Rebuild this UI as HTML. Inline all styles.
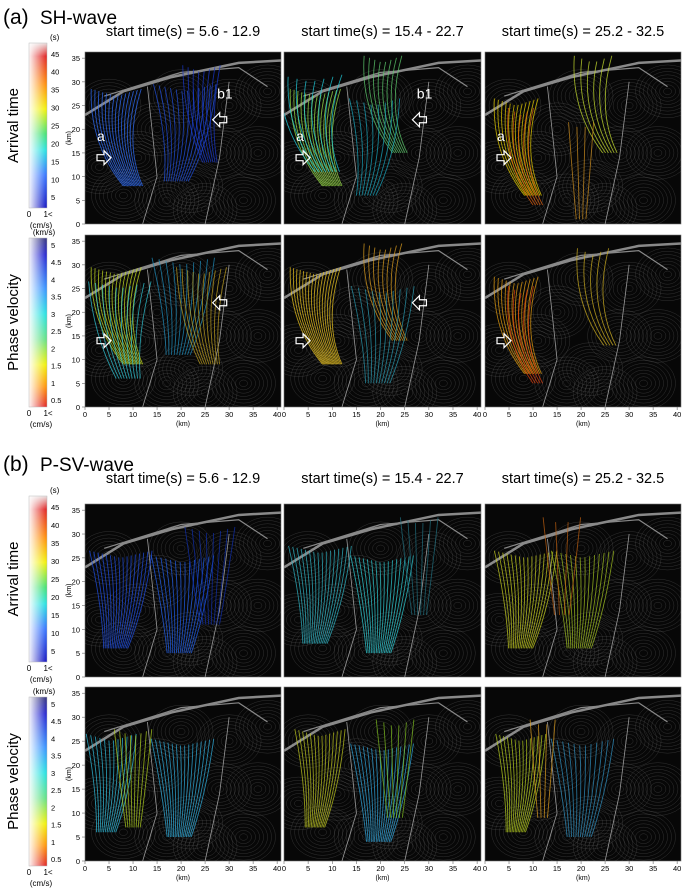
<!DOCTYPE html>
<html><head><meta charset="utf-8"><style>
html,body{margin:0;padding:0;background:#fff;}
svg{display:block;font-family:"Liberation Sans",sans-serif;}
</style></head><body>
<svg id="fig" width="685" height="891" viewBox="0 0 685 891" xmlns="http://www.w3.org/2000/svg">
<defs>
<linearGradient id="gArr" x1="0" y1="0" x2="0" y2="1">
<stop offset="0" stop-color="#e8e0e0"/><stop offset="0.08" stop-color="#e02020"/><stop offset="0.25" stop-color="#ff8a00"/><stop offset="0.4" stop-color="#f2f000"/><stop offset="0.55" stop-color="#40e070"/><stop offset="0.65" stop-color="#20e0e0"/><stop offset="0.8" stop-color="#3070ff"/><stop offset="1" stop-color="#1010c0"/></linearGradient>
<linearGradient id="gVel" x1="0" y1="0" x2="0" y2="1">
<stop offset="0" stop-color="#30307a"/><stop offset="0.1" stop-color="#2020d0"/><stop offset="0.3" stop-color="#3090ff"/><stop offset="0.45" stop-color="#20e0e0"/><stop offset="0.6" stop-color="#60e080"/><stop offset="0.75" stop-color="#f0f000"/><stop offset="0.88" stop-color="#ff9000"/><stop offset="1" stop-color="#e02020"/></linearGradient>
<linearGradient id="gWhite" x1="0" y1="0" x2="1" y2="0">
<stop offset="0" stop-color="#fff" stop-opacity="0.95"/><stop offset="1" stop-color="#fff" stop-opacity="0"/></linearGradient>
</defs>
<text x="3" y="24" font-size="21">(a)</text>
<text x="40" y="24" font-size="19">SH-wave</text>
<text x="3" y="471" font-size="21">(b)</text>
<text x="40" y="471" font-size="19">P-SV-wave</text>
<g id="content"></g>
</svg>
<script>
const colLabels = ["start time(s) = 5.6 - 12.9","start time(s) = 15.4 - 22.7","start time(s) = 25.2 - 32.5"];
const xTicks = [0,5,10,15,20,25,30,35,40];
const yTicks = [0,5,10,15,20,25,30,35];
const arrTicks = [45,40,35,30,25,20,15,10,5];
const velTicks = [5,4.5,4,3.5,3,2.5,2,1.5,1,0.5];
const rowTitles = ["Arrival time","Phase velocity","Arrival time","Phase velocity"];
// bundles per panel: [xkm, ykm, color, count, spread, lean]
const bundles = [
 [[[8,17,"#2f6fff",14,4,-1],[20,18,"#2050e0",12,5,0.5],[25,22,"#1a3ad0",8,3,-0.5]],
  [[8,17,"#9ee64a",14,4,-1],[7,20,"#20d0e0",8,5,-1],[22,24,"#60d070",8,3,-1],[18,15,"#1aa8c0",8,4,0.5]],
  [[8,15,"#e8d000",12,3.5,-1],[9,13,"#e06010",5,2,-1],[24,24,"#c8e030",6,3,-1],[20,10,"#d09020",4,2,0]]],
 [[[8,18,"#c8e020",14,4,-1],[8,15,"#30c8d8",10,5,-0.5],[20,20,"#2090c0",10,5,0.3],[25,18,"#c0a020",10,4,-0.5]],
  [[8,18,"#f0c820",16,4,-1],[22,23,"#e0a020",8,3,-1],[20,14,"#2a9ab0",10,5,0.3]],
  [[8,16,"#e8a010",12,3.5,-1],[9,14,"#e04010",5,2,-1],[24,22,"#d0b020",5,2.5,-1]]],
 [[[7,15,"#2050e8",16,5,0.3],[20,14,"#2060f0",14,5,0.2],[26,20,"#1030b0",8,4,0]],
  [[7,16,"#30b8c8",16,5,0.3],[20,14,"#30d0d8",16,5,0.2],[28,22,"#207080",6,3,0]],
  [[8,15,"#c8d020",16,5,0.3],[20,15,"#a0c020",14,5,0.2],[16,22,"#c06010",4,3,0]]],
 [[[5,15,"#30c0e0",12,4,0.3],[10,16,"#b0d020",8,3,0],[20,14,"#30b0e0",16,5,0.2]],
  [[7,16,"#c0c820",14,4,0.3],[20,13,"#30a8e0",16,5,0.2],[23,18,"#80c020",6,3,0]],
  [[7,15,"#b8d020",14,4,0.3],[20,14,"#3090c0",12,5,0.2],[12,18,"#e0a020",4,2,0]]]
];
const rowsY = [[52,224],[235,407],[504,677],[687,861]];
const colsX = [[85,281],[284,481],[485,681]];
const bars = [[43,208],[238,407],[496,662],[697,866]];
const NS="http://www.w3.org/2000/svg";
const root=document.getElementById('content');
function mk(tag,attrs,parent){const e=document.createElementNS(NS,tag);for(const k in attrs)e.setAttribute(k,attrs[k]);(parent||root).appendChild(e);return e;}
function txt(x,y,s,size,anchor,parent){const t=mk('text',{x:x,y:y,'font-size':size,'text-anchor':anchor||'start'},parent);t.textContent=s;return t;}

colLabels.forEach((l,c)=>{[36,483].forEach((y,i)=>{
 const t=txt((colsX[c][0]+colsX[c][1])/2,y,l,14.5,'middle');
 
 
});});

const rings=[[3,12],[8,6],[17,5],[22,8],[30,25],[36,15],[15,20],[25,3],[33,5],[5,25],[20,27],[11,14],[28,15],[38,28]];
for(let r=0;r<4;r++){
 const [b0,b1]=bars[r]; const isArr=(r%2===0);
 const cb=mk('g',{});
 
 
 mk('rect',{x:29,y:b0,width:18,height:b1-b0,fill:isArr?'url(#gArr)':'url(#gVel)'},cb);
 mk('rect',{x:29,y:b0,width:18,height:b1-b0,fill:'url(#gWhite)',stroke:'#bbb','stroke-width':0.5},cb);
 const ticks=isArr?arrTicks:velTicks;
 const vmax=isArr?48:5.2, vmin=isArr?2:0.3;
 ticks.forEach(v=>{const y=b0+(vmax-v)/(vmax-vmin)*(b1-b0);txt(51,y+3,String(v),7.5,'start',cb);});
 txt(49,b0-3,isArr?'(s)':'(km/s)',8,isArr?'start':'middle',cb).setAttribute('x',isArr?50:44);
 txt(29,b1+9,'0',8,'middle',cb);txt(48,b1+9,'1<',8,'middle',cb);
 txt(41,b1+20,'(cm/s)',8,'middle',cb);
 const rt=txt(0,0,rowTitles[r],15,'middle');
 rt.setAttribute('transform',`translate(18,${(b0+b1)/2}) rotate(-90)`);
 
 
 for(let c=0;c<3;c++){
  const [x0,x1]=colsX[c],[y0,y1]=rowsY[r];
  const sx=v=>x0+v/40.8*(x1-x0), sy=v=>y1-v/36.3*(y1-y0);
  const g=mk('g',{});
  
  
  mk('rect',{x:x0,y:y0,width:x1-x0,height:y1-y0,fill:'#070707'},g);
  const clip='clip'+r+c;
  const cp=mk('clipPath',{id:clip},g);mk('rect',{x:x0,y:y0,width:x1-x0,height:y1-y0},cp);
  const inner=mk('g',{'clip-path':`url(#${clip})`},g);
  rings.forEach(([cx,cy])=>{
   for(let k=1;k<9;k++)mk('ellipse',{cx:sx(cx),cy:sy(cy),rx:k*4,ry:k*3.3,fill:'none',stroke:'#666','stroke-width':0.45,opacity:0.5},inner);
  });
  mk('path',{d:`M${sx(0)},${sy(23)} L${sx(8)},${sy(28)} L${sx(18)},${sy(31)} L${sx(32)},${sy(34)} L${sx(40.8)},${sy(34.5)}`,fill:'none',stroke:'#aaa','stroke-width':2.5,opacity:0.8},inner);
  mk('path',{d:`M${sx(4)},${sy(27)} L${sx(20)},${sy(32)} L${sx(32)},${sy(33)} L${sx(38)},${sy(29)}`,fill:'none',stroke:'#888','stroke-width':1.2},inner);
  mk('path',{d:`M${sx(13)},${sy(29)} L${sx(15)},${sy(10)} L${sx(12)},${sy(0)}`,fill:'none',stroke:'#999','stroke-width':0.8},inner);
  mk('path',{d:`M${sx(30)},${sy(30)} L${sx(28)},${sy(14)} L${sx(25)},${sy(0)}`,fill:'none',stroke:'#999','stroke-width':0.8},inner);
  bundles[r][c].forEach(([bx,by,col,n,sp,lean])=>{
   for(let i=0;i<n;i++){
    const f=(i/(n-1||1)-0.5)*2;
    const xt=bx+f*sp*1.3+lean*1.5, yt=by+10+Math.abs(f)*1.5;
    const xb=bx+lean*-2+f*sp*0.5, yb=by-9;
    const xm=bx+f*sp*0.9+lean*3.5;
    const p=mk('path',{d:`M${sx(xt)},${sy(yt)} Q${sx(xm)},${sy(by)} ${sx(xb)},${sy(yb)}`,fill:'none',stroke:col,'stroke-width':0.9,opacity:0.75},inner);
    
    
   }
  });
  if(r<2){
   const arr=(ax,ay,dir)=>{const X=sx(ax),Y=sy(ay),d=dir;
    mk('path',{d:`M${X},${Y-3} L${X+d*7},${Y-3} L${X+d*7},${Y-7} L${X+d*14},${Y} L${X+d*7},${Y+7} L${X+d*7},${Y+3} L${X},${Y+3} Z`,fill:'none',stroke:'#fff','stroke-width':1.2},g);};
   arr(2.5,14,1);
   if(c<2)arr(29.5,22,-1);
   if(r===0){const a=txt(sx(2.5),sy(17.5),'a',14,'start',g);a.setAttribute('fill','#fff');
    if(c<2){const b=txt(sx(27.5),sy(26.5),'b1',14,'start',g);b.setAttribute('fill','#fff');}}
  }
  mk('rect',{x:x0,y:y0,width:x1-x0,height:y1-y0,fill:'none',stroke:'#777','stroke-width':0.6},g);
  if(c===0){
   yTicks.forEach(v=>{mk('line',{x1:x0-3,x2:x0,y1:sy(v),y2:sy(v),stroke:'#666','stroke-width':0.6},g);txt(x0-5,sy(v)+3,String(v),7.5,'end',g);});
   const kt=txt(0,0,'(km)',7,'middle',g);kt.setAttribute('transform',`translate(${x0-14},${(y0+y1)/2}) rotate(-90)`);
  }
  if(r===1||r===3){
   xTicks.forEach(v=>{mk('line',{x1:sx(v),x2:sx(v),y1:y1,y2:y1+3,stroke:'#666','stroke-width':0.6},g);txt(sx(v),y1+10,String(v),7.5,'middle',g);});
   txt((x0+x1)/2,y1+19,'(km)',7,'middle',g);
  }
 }
}
</script>
</body></html>
